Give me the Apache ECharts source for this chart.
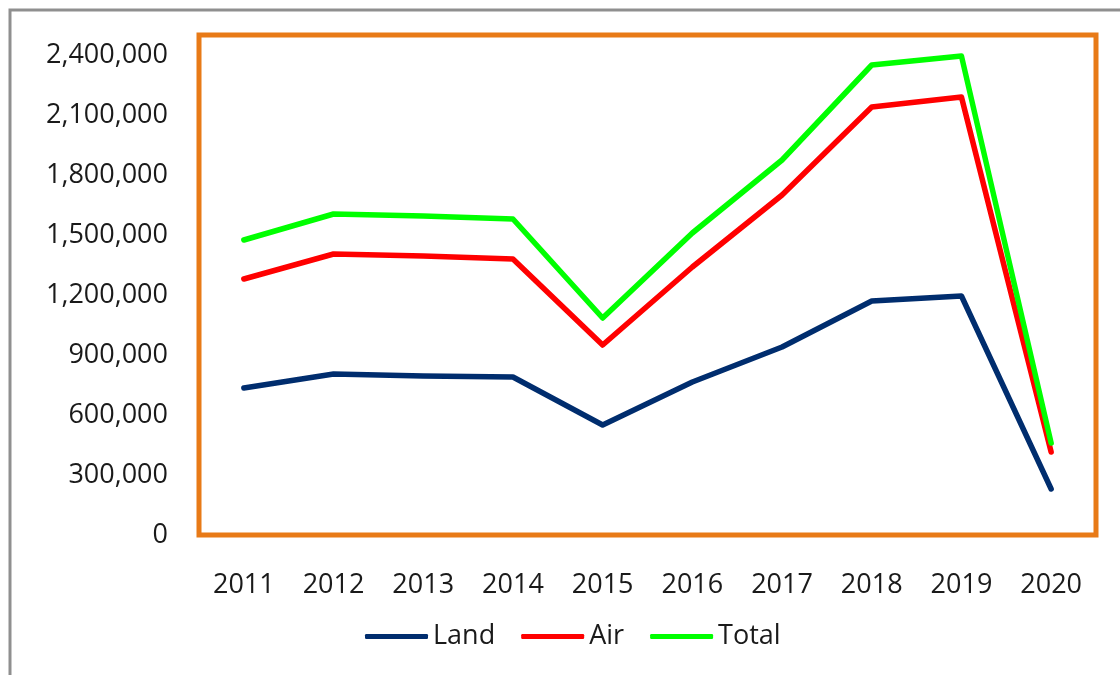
<!DOCTYPE html>
<html>
<head>
<meta charset="utf-8">
<script src="https://cdn.jsdelivr.net/npm/echarts@6/dist/echarts.min.js"></script>
<style>
  html, body { margin: 0; padding: 0; background: #fff; }
  #chart { width: 1120px; height: 675px; }
</style>
</head>
<body>
<div id="chart"></div>
<script>
const years = ["2011", "2012", "2013", "2014", "2015", "2016", "2017", "2018", "2019", "2020"];
const land = [735000, 805000, 795000, 790000, 550000, 765000, 940000, 1170000, 1195000, 230000];
const air = [1280000, 1405000, 1395000, 1380000, 950000, 1340000, 1700000, 2140000, 2190000, 415000];
const total = [1475000, 1605000, 1595000, 1580000, 1085000, 1510000, 1875000, 2350000, 2395000, 460000];

const chart = echarts.init(document.getElementById("chart"));
const font = "Open Sans";

const makeLine = (name, data, color) => ({
  name: name,
  type: "line",
  data: data,
  symbol: "none",
  lineStyle: { color: color, width: 5.5, cap: "round", join: "round" },
  itemStyle: { color: color },
  animation: false,
});

const option = {
  backgroundColor: "#fff",
  graphic: [
    {
      type: "rect",
      shape: { x: 10, y: 10, width: 1200, height: 800 },
      style: { fill: "none", stroke: "#8f8f8f", lineWidth: 3 },
      silent: true,
    },
  ],
  grid: {
    left: 199,
    right: 24,
    top: 35,
    bottom: 140,
    show: true,
    borderColor: "#E87A17",
    borderWidth: 5,
  },
  legend: {
    bottom: 20,
    left: 360,
    itemWidth: 63,
    itemHeight: 5,
    itemGap: 26,
    icon: "roundRect",
    textStyle: { fontFamily: font, fontSize: 27, color: "#1a1a1a" },
    data: ["Land", "Air", "Total"],
  },
  xAxis: {
    type: "category",
    data: years,
    boundaryGap: true,
    axisLine: { show: false },
    axisTick: { show: false },
    axisLabel: { margin: 37, fontFamily: font, fontSize: 27, color: "#1a1a1a" },
  },
  yAxis: {
    type: "value",
    min: 0,
    max: 2500000,
    interval: 300000,
    splitLine: { show: false },
    axisLine: { show: false },
    axisTick: { show: false },
    axisLabel: {
      margin: 31,
      showMaxLabel: false,
      fontFamily: font,
      fontSize: 27,
      color: "#1a1a1a",
      formatter: (v) => v.toLocaleString("en-US"),
    },
  },
  series: [
    makeLine("Land", land, "#002D6E"),
    makeLine("Air", air, "#FF0000"),
    makeLine("Total", total, "#00FF00"),
  ],
};

chart.setOption(option);
</script>
</body>
</html>
